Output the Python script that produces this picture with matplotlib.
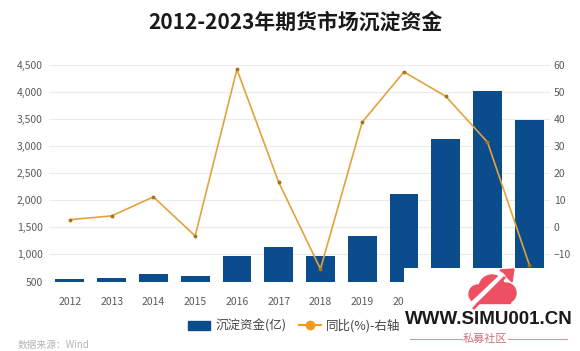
import numpy as np
import matplotlib.pyplot as plt
from matplotlib.patches import Patch, Rectangle, Circle, Polygon
from matplotlib.lines import Line2D

plt.rcParams['font.family'] = ['Noto Sans CJK SC', 'DejaVu Sans']

years = ['2012', '2013', '2014', '2015', '2016', '2017',
         '2018', '2019', '2020', '2021', '2022', '2023']
funds = [546, 570, 633, 607, 970, 1131, 970, 1340, 2115, 3124, 4020, 3480]
yoy = [2.8, 4.2, 11.2, -3.2, 58.2, 16.6, -15.4, 38.8, 57.3, 48.3, 31.4, -13.8]
left_ticks = [500, 1000, 1500, 2000, 2500, 3000, 3500, 4000, 4500]
right_ticks = [-10, 0, 10, 20, 30, 40, 50, 60]

bar_color = '#0b4d8c'
line_color = '#e3a33c'
tick_color = '#5a5a5a'

fig = plt.figure(figsize=(5.8, 3.51), dpi=100)
ax = fig.add_axes([0.0845, 0.198, 0.864, 0.618])
x = np.arange(len(years))

ax.bar(x, funds, width=0.69, color=bar_color, zorder=2)
ax.set_xlim(-0.5, 11.5)
ax.set_ylim(500, 4500)
ax.set_yticks(left_ticks)
ax.set_yticklabels([f'{v:,}' for v in left_ticks])
ax.set_xticks(x, years)
ax.grid(axis='y', color='#ebebeb', lw=0.8)
ax.set_axisbelow(True)
for s in ax.spines.values():
    s.set_visible(False)
ax.tick_params(length=0, colors=tick_color, labelsize=7.5)
ax.tick_params(axis='x', pad=11)
ax.tick_params(axis='y', pad=4.5)

ax2 = ax.twinx()
ax2.plot(x, yoy, color=line_color, lw=1.2, marker='o', ms=1.8,
         mfc='#a8741c', mec='#a8741c')
ax2.set_ylim(-20, 60)
ax2.set_yticks(right_ticks)
for s in ax2.spines.values():
    s.set_visible(False)
ax2.tick_params(length=0, colors=tick_color, labelsize=7.5, pad=2.5)

# watermark
fig.text(296 / 580, 1 - 174 / 351, 'Wind', fontsize=58, fontweight='bold',
         family='DejaVu Sans', color='#ececf0', ha='center', va='center', zorder=-1)

fig.text(0.51, 1 - 22 / 351, '2012-2023年期货市场沉淀资金', fontsize=15,
         fontweight='bold', ha='center', va='center', color='#1a1a1a')

handles = [Patch(facecolor=bar_color, edgecolor=bar_color),
           Line2D([0], [0], color='#f29a1e', lw=1.5, marker='o', ms=6,
                  mfc='#f29a1e', mec='#f29a1e')]
fig.legend(handles, ['沉淀资金(亿)', '同比(%)-右轴'], loc='center',
           bbox_to_anchor=(0.507, 1 - 326 / 351), ncol=2, frameon=False,
           fontsize=9, handlelength=1.8, handletextpad=0.4, columnspacing=1.0,
           labelcolor='#444444')

fig.text(0.03, 0.004, '数据来源：Wind', fontsize=7, color='#b5b5b5', va='bottom')

# logo overlay
fig.add_artist(Rectangle((404 / 580, 0), 1 - 404 / 580, 1 - 268 / 351,
                         transform=fig.transFigure, facecolor='white',
                         edgecolor='none', zorder=10))
fig.text(489 / 580, 1 - 320 / 351, 'WWW.SIMU001.CN', fontsize=13.5,
         fontweight='bold', family='Liberation Sans', color='#1a1a1a',
         ha='center', va='center', zorder=11)
fig.text(485 / 580, 1 - 339 / 351, '私募社区', fontsize=8, color='#c8707a',
         ha='center', va='center', zorder=11)
fig.add_artist(Line2D([410 / 580, 462 / 580], [1 - 339 / 351] * 2,
                      transform=fig.transFigure, color='#d9949b', lw=0.8, zorder=11))
fig.add_artist(Line2D([508 / 580, 567 / 580], [1 - 339 / 351] * 2,
                      transform=fig.transFigure, color='#d9949b', lw=0.8, zorder=11))

lg = fig.add_axes([460 / 580, 1 - 310 / 351, 60 / 580, 42 / 351], zorder=12)
lg.set_xlim(0, 60)
lg.set_ylim(0, 42)
lg.axis('off')
red = '#ee4f63'
for cx, cy, r in [(32, 22, 13), (18, 16, 9), (46, 17, 10)]:
    lg.add_patch(Circle((cx, cy), r, color=red))
lg.add_patch(Rectangle((14, 7), 36, 12, color=red))
lg.plot([8, 44], [2, 36], color='white', lw=3.5, solid_capstyle='butt')
lg.plot([14, 44], [2, 32], color=red, lw=2)
lg.add_patch(Polygon([[40, 40], [54, 41], [52, 28]], color=red))

fig.savefig('out.png', dpi=100)
